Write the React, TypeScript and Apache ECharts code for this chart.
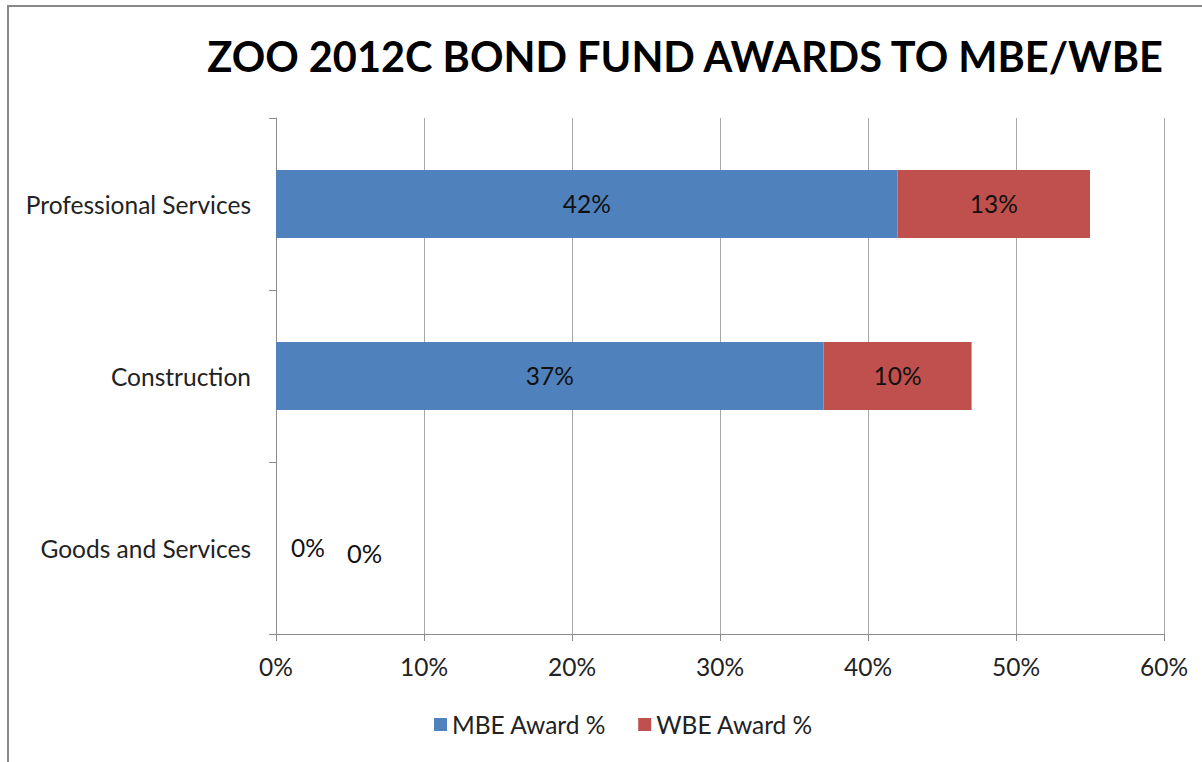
import React, { useEffect, useRef } from "react";
import * as echarts from "echarts";

const categories = ["Professional Services", "Construction", "Goods and Services"];
const mbeValues = [42, 37, 0];
const wbeValues = [13, 10, 0];
const seriesNames = ["MBE Award %", "WBE Award %"];
const titleText = "ZOO 2012C BOND FUND AWARDS TO MBE/WBE";

const FONT = "Lato";
const FS = 24.5;

export default function App() {
  const ref = useRef<HTMLDivElement>(null);
  useEffect(() => {
    if (!ref.current) return;
    const chart = echarts.init(ref.current, undefined, { renderer: "svg" });
    const mbeData = mbeValues.map((v) =>
      v === 0 ? { value: v, label: { position: "right", distance: 15, offset: [0, -1] } } : v
    );
    const wbeData = wbeValues.map((v) =>
      v === 0
        ? { value: v, label: { position: "right", distance: 71, offset: [0, 5], fontSize: 25.5 } }
        : v
    );
    const label = {
      show: true,
      position: "inside",
      formatter: "{c}%",
      fontFamily: FONT,
      fontSize: FS,
      color: "#111",
      offset: [0, -1],
    };
    chart.setOption({
      animation: false,
      backgroundColor: "#fff",
      textStyle: { fontFamily: FONT },
      title: {
        text: titleText,
        left: 680,
        textAlign: "center",
        top: 30,
        textStyle: { fontFamily: FONT, fontWeight: "bold", fontSize: 41.5, color: "#000" },
      },
      graphic: [
        {
          type: "rect",
          shape: { x: 8, y: 6, width: 1400, height: 1000 },
          style: { fill: "none", stroke: "#888", lineWidth: 2 },
          silent: true,
        },
      ],
      legend: {
        data: seriesNames,
        left: 429,
        top: 707,
        orient: "horizontal",
        itemWidth: 13,
        itemHeight: 13,
        itemGap: 32,
        icon: "rect",
        textStyle: { fontFamily: FONT, fontSize: FS, color: "#222" },
      },
      grid: { left: 276, top: 118, right: 38, bottom: 128, containLabel: false },
      xAxis: {
        type: "value",
        min: 0,
        max: 60,
        interval: 10,
        axisLine: { show: true, lineStyle: { color: "#8c8c8c", width: 1 } },
        axisTick: { show: true, length: 7, lineStyle: { color: "#8c8c8c" } },
        splitLine: { show: true, lineStyle: { color: "#a6a6a6", width: 1 } },
        axisLabel: { formatter: "{value}%", fontFamily: FONT, fontSize: FS, color: "#222", margin: 20 },
      },
      yAxis: {
        type: "category",
        inverse: true,
        data: categories,
        axisLine: { show: true, lineStyle: { color: "#8c8c8c", width: 1 } },
        axisTick: { show: true, length: 7, lineStyle: { color: "#8c8c8c" } },
        axisLabel: { fontFamily: FONT, fontSize: FS, color: "#222", margin: 25, padding: [0, 0, 3, 0] },
      },
      series: [
        {
          name: seriesNames[0],
          type: "bar",
          stack: "total",
          barWidth: 68,
          data: mbeData,
          itemStyle: { color: "#4F81BD" },
          label,
        },
        {
          name: seriesNames[1],
          type: "bar",
          stack: "total",
          barWidth: 68,
          data: wbeData,
          itemStyle: { color: "#C0504D" },
          label,
        },
      ],
    });
    return () => chart.dispose();
  }, []);
  return (
    <div
      ref={ref}
      style={{ position: "fixed", left: 0, top: 0, width: 1202, height: 762 }}
    />
  );
}
